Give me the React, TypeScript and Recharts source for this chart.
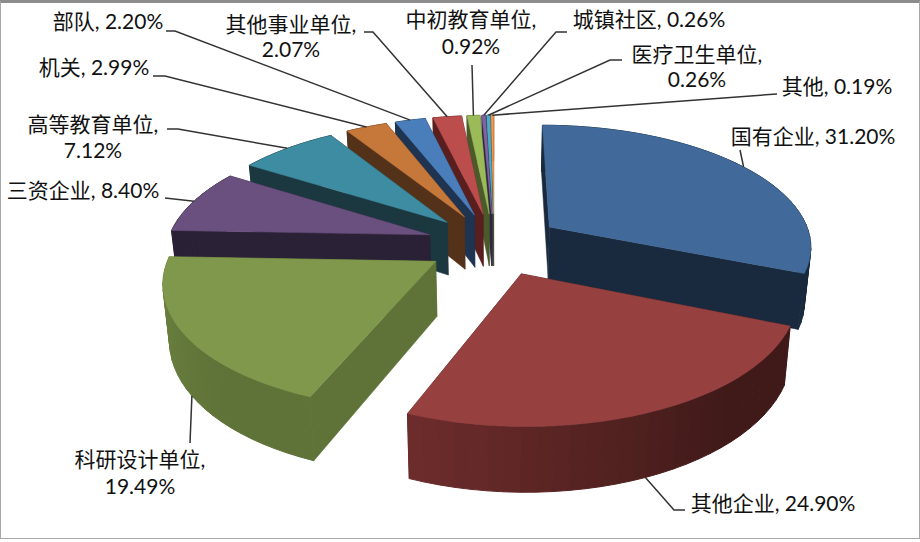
import React from 'react';
import { PieChart, Pie } from 'recharts';

const categories = ['国有企业', '其他企业', '科研设计单位', '三资企业', '高等教育单位', '机关', '部队', '其他事业单位', '中初教育单位', '城镇社区', '医疗卫生单位', '其他'];
const shares = [31.2, 24.9, 19.49, 8.4, 7.12, 2.99, 2.2, 2.07, 0.92, 0.26, 0.26, 0.19];
const shareLabels = ['31.20%', '24.90%', '19.49%', '8.40%', '7.12%', '2.99%', '2.20%', '2.07%', '0.92%', '0.26%', '0.26%', '0.19%'];

// top face, cut face, rim colour at the start and end of the slice
const topColors = ['#416a9a', '#964040', '#7f984c', '#69507f', '#3e8ca2', '#c5783a', '#4a7ebb', '#bb4e4c', '#9bbb59', '#8064a2', '#4bacc6', '#f79646'];
const cutColors = ['#1a2a3e', '#3f1a18', '#5f7238', '#2b2136', '#1b3840', '#54321a', '#1e3450', '#591f1e', '#4a5a2a', '#2f2540', '#1f4450', '#6a4020'];
const rimFrom = ['#1a2a3e', '#6d2c2c', '#6c8540', '#2b2136', '#1b3840', '#54321a', '#1e3450', '#591f1e', '#4a5a2a', '#2f2540', '#1f4450', '#6a4020'];
const rimTo = ['#1a2a3e', '#3f1a18', '#5f7238', '#2b2136', '#1b3840', '#54321a', '#1e3450', '#591f1e', '#4a5a2a', '#2f2540', '#1f4450', '#6a4020'];

// text blocks: anchor x, baselines, and the elbow of each leader line
const labelLayout = [
  { x: 813, ys: [144], oneLine: true, from: [740, 150] },
  { x: 773, ys: [511], oneLine: true, from: [685, 510], elbow: [674, 510] },
  { x: 140, ys: [467, 494], from: [190, 443] },
  { x: 83, ys: [198], oneLine: true, from: [165, 198] },
  { x: 93, ys: [132, 158], from: [167, 129], elbow: [178, 129] },
  { x: 94, ys: [75], oneLine: true, from: [153, 76], elbow: [165, 76] },
  { x: 108, ys: [29], oneLine: true, from: [166, 31], elbow: [175, 31] },
  { x: 291, ys: [32, 57], from: [364, 32], elbow: [373, 32] },
  { x: 471, ys: [27, 54], from: [472, 65] },
  { x: 649, ys: [27], oneLine: true, from: [567, 32], elbow: [556, 32] },
  { x: 697, ys: [62, 87], from: [622, 60], elbow: [610, 60] },
  { x: 837, ys: [94], oneLine: true, from: [777, 94] },
];

const CENTER_X = 489;
const CENTER_Y = 239;
const RADIUS = 263;
const EXPLODE = 68;
const TILT = 0.46;
const PERSPECTIVE = 0.00055;
const DEPTH = 54;
const RAD = Math.PI / 180;

// painted back to front, so the pie runs counter-clockwise from the end of the first slice
const paintOrder = [0, 11, 10, 9, 8, 7, 6, 5, 4, 3, 2, 1];
const total = shares.reduce((a, b) => a + b, 0);
const firstAngle = 90 - (360 * shares[0]) / total;
const pieData = paintOrder.map((i) => ({ name: categories[i], value: shares[i], idx: i }));

// angle is the chart's own angle, counter-clockwise from 3 o'clock
function project(cx: number, cy: number, angle: number, r: number, midAngle: number) {
  const wx = EXPLODE * Math.cos(midAngle * RAD) + r * Math.cos(angle * RAD);
  const wy = EXPLODE * Math.sin(midAngle * RAD) + r * Math.sin(angle * RAD);
  const s = 1 / (1 + wy * PERSPECTIVE);
  const x = cx + wx * s;
  const y = cy - wy * TILT * s;
  return { x, y, bx: cx + wx * s * 0.98, by: y + DEPTH * s };
}

function mix(a: string, b: string, t: number) {
  const pa = parseInt(a.slice(1), 16);
  const pb = parseInt(b.slice(1), 16);
  const ch = (shift: number) => {
    const ca = (pa >> shift) & 255;
    const cb = (pb >> shift) & 255;
    return Math.round(ca + (cb - ca) * t);
  };
  return `rgb(${ch(16)},${ch(8)},${ch(0)})`;
}

function Slice(props: any) {
  const { cx, cy, startAngle, endAngle, outerRadius, payload } = props;
  const i = payload.idx;
  const mid = (startAngle + endAngle) / 2;
  const pt = (a: number, r: number) => project(cx, cy, a, r, mid);
  const steps = Math.max(2, Math.ceil((endAngle - startAngle) / 3));
  const arc = [];
  for (let k = 0; k <= steps; k++) arc.push(pt(startAngle + ((endAngle - startAngle) * k) / steps, outerRadius));
  const apex = pt(mid, 0);
  const first = arc[0];
  const last = arc[arc.length - 1];

  const cut = (p: any) => `${apex.x},${apex.y} ${p.x},${p.y} ${p.bx},${p.by} ${apex.bx},${apex.by}`;
  const topPath = `${apex.x},${apex.y} ` + arc.map((p) => `${p.x},${p.y}`).join(' ');

  return (
    <g>
      <polygon points={cut(first)} fill={cutColors[i]} stroke={cutColors[i]} strokeWidth={0.5} />
      <polygon points={cut(last)} fill={cutColors[i]} stroke={cutColors[i]} strokeWidth={0.5} />
      {arc.slice(1).map((p, k) => {
        const q = arc[k];
        const c = mix(rimFrom[i], rimTo[i], Math.min(1, (k / Math.max(1, steps - 1)) * 1.4));
        return (
          <polygon key={k} points={`${q.x},${q.y} ${p.x},${p.y} ${p.bx},${p.by} ${q.bx},${q.by}`} fill={c} stroke={c} strokeWidth={1} />
        );
      })}
      <polygon points={topPath} fill={topColors[i]} stroke={topColors[i]} strokeWidth={0.5} />
    </g>
  );
}

function SliceLabel(props: any) {
  const { cx, cy, midAngle, outerRadius, payload } = props;
  const i = payload.idx;
  const l: any = labelLayout[i];
  const edge = project(cx, cy, midAngle, outerRadius, midAngle);
  // front slices are met on their lower rim, the rest on the top edge
  const front = Math.sin(midAngle * RAD) < -0.5;
  const end = front ? [edge.bx, edge.by] : [edge.x, edge.y];
  const pts = [l.from, l.elbow, end].filter(Boolean).map((p: number[]) => p.join(',')).join(' ');
  return (
    <g>
      <polyline points={pts} fill="none" stroke="#333" strokeWidth={1.5} />
      <text textAnchor="middle" fill="#111" fontSize={21} fontFamily="Lato, 'Noto Sans CJK SC', sans-serif">
        {l.oneLine ? (
          <tspan x={l.x} y={l.ys[0]}>{`${categories[i]}, ${shareLabels[i]}`}</tspan>
        ) : (
          <>
            <tspan x={l.x} y={l.ys[0]}>{`${categories[i]},`}</tspan>
            <tspan x={l.x} y={l.ys[1]}>{shareLabels[i]}</tspan>
          </>
        )}
      </text>
    </g>
  );
}

export default function App() {
  return (
    <div
      style={{
        position: 'absolute',
        left: 0,
        top: 0,
        width: 920,
        height: 542,
        background: '#fff',
      }}
    >
      <div
        style={{
          position: 'absolute',
          left: 0,
          top: 0,
          width: 918,
          height: 535,
          borderTop: '3px solid #8c8c8c',
          borderLeft: '1px solid #a8a8a8',
          borderRight: '1px solid #a8a8a8',
          borderBottom: '1px solid #a8a8a8',
        }}
      />
      <PieChart width={920} height={542} style={{ position: 'absolute', left: 0, top: 0 }}>
        <Pie
          data={pieData}
          dataKey="value"
          nameKey="name"
          cx={CENTER_X}
          cy={CENTER_Y}
          innerRadius={0}
          outerRadius={RADIUS}
          startAngle={firstAngle}
          endAngle={firstAngle + 360}
          shape={Slice}
          label={SliceLabel}
          labelLine={false}
          isAnimationActive={false}
        />
      </PieChart>
    </div>
  );
}
